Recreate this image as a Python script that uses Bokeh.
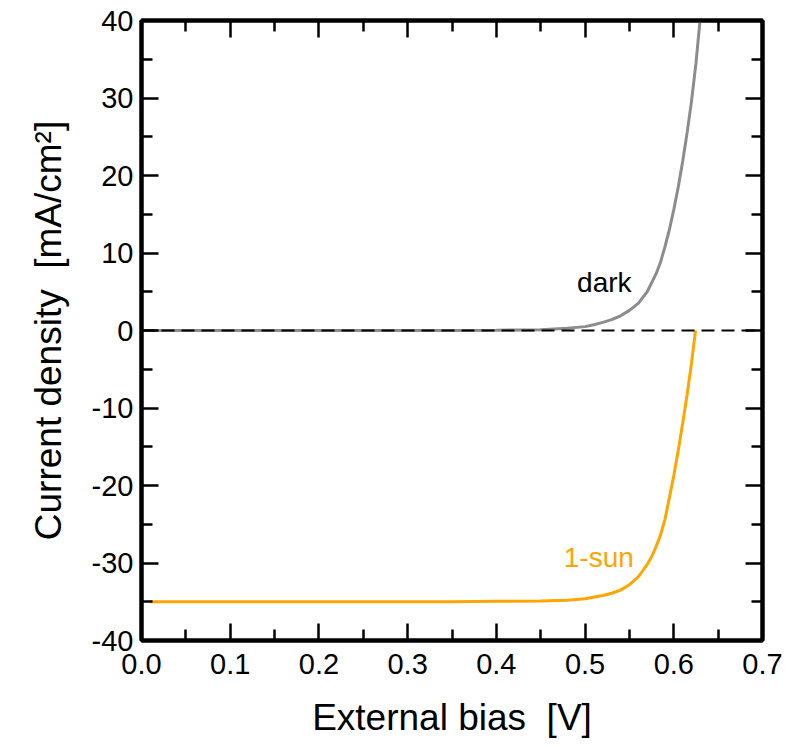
from bokeh.plotting import figure
from bokeh.models import (LinearAxis, FixedTicker, PrintfTickFormatter,
                          CustomJSTickFormatter, Range1d, Span, Label)
from bokeh.embed import file_html
from bokeh.resources import INLINE

# ---- data ----
dark_v = [0.00, 0.05, 0.10, 0.15, 0.20, 0.25, 0.30, 0.35, 0.40, 0.45, 0.48,
          0.50, 0.51, 0.52, 0.53, 0.54, 0.55, 0.56, 0.57, 0.58, 0.585, 0.59,
          0.595, 0.60, 0.605, 0.61, 0.615, 0.62, 0.625, 0.63]
dark_j = [0.0, 0.0, 0.0, 0.0, 0.0, 0.0, 0.0, 0.01, 0.03, 0.1, 0.3,
          0.5, 0.75, 1.05, 1.4, 1.9, 2.6, 3.5, 5.0, 7.3, 8.8, 10.8,
          13.0, 15.6, 18.5, 21.8, 25.5, 29.6, 34.5, 40.5]

sun_v = [0.01, 0.05, 0.10, 0.15, 0.20, 0.25, 0.30, 0.35, 0.40, 0.45, 0.48,
         0.50, 0.52, 0.53, 0.54, 0.55, 0.56, 0.565, 0.57, 0.575, 0.58, 0.585,
         0.59, 0.595, 0.60, 0.605, 0.61, 0.615, 0.62, 0.6245]
sun_j = [-35.0, -35.0, -35.0, -35.0, -35.0, -35.0, -35.0, -35.0, -34.95, -34.9,
         -34.8, -34.6, -34.2, -33.9, -33.5, -32.8, -31.8, -31.0, -30.2, -29.2,
         -27.9, -26.4, -24.4, -21.6, -18.7, -15.5, -12.0, -8.3, -4.2, 0.0]

x_ticks = [0.0, 0.1, 0.2, 0.3, 0.4, 0.5, 0.6, 0.7]
x_minor = [0.05, 0.15, 0.25, 0.35, 0.45, 0.55, 0.65]
y_ticks = [-40, -30, -20, -10, 0, 10, 20, 30, 40]
y_minor = [-35, -25, -15, -5, 5, 15, 25, 35]

x_range = (0.0, 0.7)
y_range = (-40, 40)
x_label = "External bias\u00a0\u00a0[V]"
y_label = "Current density\u00a0\u00a0[mA/cm²]"
label_dark = ("dark", 0.491, 6.2)
label_sun = ("1-sun", 0.476, -29.3)

FONT = "Liberation Sans"

p = figure(width=786, height=747, output_backend="svg", toolbar_location=None,
           x_range=Range1d(*x_range), y_range=Range1d(*y_range),
           min_border_left=141, min_border_right=24, min_border_top=20,
           min_border_bottom=107)
p.grid.visible = False
p.outline_line_color = "black"
p.outline_line_width = 4
p.background_fill_color = "white"
p.border_fill_color = "white"

def style(ax, show_labels):
    ax.axis_line_width = 4
    ax.axis_line_color = "black"
    ax.major_tick_in = 17
    ax.major_tick_out = 0
    ax.minor_tick_in = 11
    ax.minor_tick_out = 0
    ax.major_tick_line_width = 2.5
    ax.minor_tick_line_width = 2.5
    ax.major_tick_line_color = "black"
    ax.minor_tick_line_color = "black"
    ax.major_label_text_font = FONT
    ax.major_label_text_color = "black"
    ax.major_label_text_font_size = "29px"
    if not show_labels:
        ax.formatter = CustomJSTickFormatter(code="return '';")
        ax.major_label_standoff = 0

xa = p.xaxis[0]
xa.ticker = FixedTicker(ticks=x_ticks, minor_ticks=x_minor)
xa.formatter = PrintfTickFormatter(format="%.1f")
style(xa, True)
xa.major_label_standoff = 13
xa.axis_label = x_label
xa.axis_label_text_font = FONT
xa.axis_label_text_font_size = "37px"
xa.axis_label_text_font_style = "normal"
xa.axis_label_text_color = "black"
xa.axis_label_standoff = 20

ya = p.yaxis[0]
ya.ticker = FixedTicker(ticks=y_ticks, minor_ticks=y_minor)
ya.formatter = PrintfTickFormatter(format="%d")
style(ya, True)
ya.major_label_standoff = 8
ya.axis_label = y_label
ya.axis_label_text_font = FONT
ya.axis_label_text_font_size = "37px"
ya.axis_label_text_font_style = "normal"
ya.axis_label_text_color = "black"
ya.axis_label_standoff = 20

top = LinearAxis(ticker=FixedTicker(ticks=x_ticks, minor_ticks=x_minor))
style(top, False)
p.add_layout(top, "above")
right = LinearAxis(ticker=FixedTicker(ticks=y_ticks, minor_ticks=y_minor))
style(right, False)
p.add_layout(right, "right")

p.add_layout(Span(location=0, dimension="width", line_color="black",
                  line_width=2, line_dash="13 7"))

p.line(dark_v, dark_j, line_color="#8c8c8c", line_width=3)
p.line(sun_v, sun_j, line_color="#ffa500", line_width=3)

p.add_layout(Label(x=label_dark[1], y=label_dark[2], text=label_dark[0],
                   text_font=FONT, text_font_size="28px", text_color="black",
                   text_baseline="alphabetic"))
p.add_layout(Label(x=label_sun[1], y=label_sun[2], text=label_sun[0],
                   text_font=FONT, text_font_size="28px", text_color="#ffa500",
                   text_baseline="alphabetic"))

open("out.html", "w").write(file_html(p, INLINE))
